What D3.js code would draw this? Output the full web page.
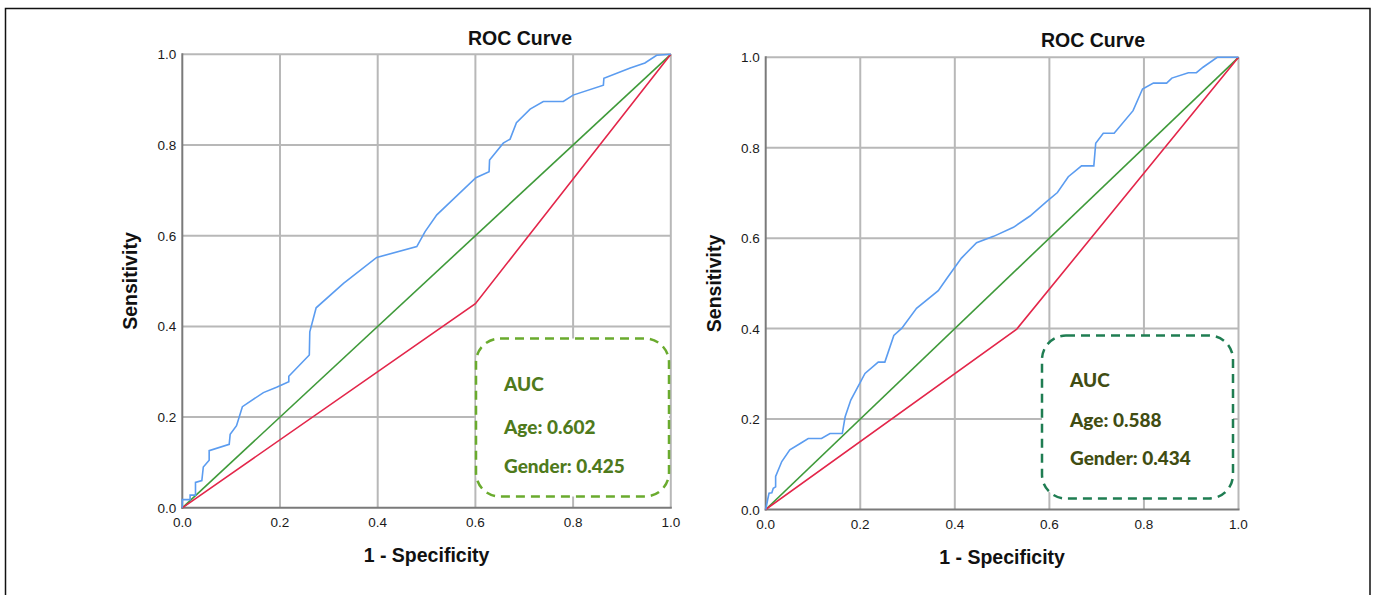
<!DOCTYPE html>
<html>
<head>
<meta charset="utf-8">
<script src="https://cdn.jsdelivr.net/npm/d3@7"></script>
<style>
    body { margin: 0; background: #fff; }
    .tick-label { font-family: "Liberation Sans", Arial, sans-serif; font-size: 13.5px; fill: #1a1a1a; }
    .axis-title { font-family: "Liberation Sans", Arial, sans-serif; font-size: 19.5px; font-weight: bold; fill: #111; }
    .auc-text { font-family: Lato, "Open Sans", sans-serif; font-size: 19px; font-weight: 900; }
</style>
</head>
<body>
<div id="chart"></div>
<script>
// Data
const ticks = [0, 0.2, 0.4, 0.6, 0.8, 1.0];
const tickLabels = ["0.0", "0.2", "0.4", "0.6", "0.8", "1.0"];
const titles = ["ROC Curve", "ROC Curve"];
const aucLabels = ["AUC", "Age:", "Gender:"];
const leftAuc = ["0.602", "0.425"];
const rightAuc = ["0.588", "0.434"];

// left panel, Age curve (1 - specificity, sensitivity)
const leftAge = [
    [0, 0], [0, 0.018], [0.016, 0.018], [0.016, 0.028], [0.027, 0.028], [0.027, 0.056],
    [0.04, 0.06], [0.043, 0.09], [0.055, 0.105], [0.055, 0.126], [0.096, 0.14], [0.098, 0.162],
    [0.111, 0.181], [0.123, 0.223], [0.166, 0.254], [0.193, 0.266], [0.218, 0.278], [0.218, 0.29],
    [0.26, 0.337], [0.261, 0.388], [0.274, 0.441], [0.33, 0.495], [0.398, 0.552], [0.48, 0.576],
    [0.497, 0.609], [0.521, 0.646], [0.601, 0.728], [0.628, 0.741], [0.629, 0.767], [0.657, 0.804],
    [0.671, 0.813], [0.684, 0.849], [0.712, 0.879], [0.739, 0.896], [0.78, 0.896], [0.8, 0.91],
    [0.862, 0.932], [0.863, 0.947], [0.917, 0.97], [0.947, 0.981], [0.971, 0.998], [1, 1]
];
const leftGender = [[0, 0], [0.6, 0.45], [1, 1]];

// right panel, Age curve
const rightAge = [
    [0, 0], [0.004, 0.021], [0.007, 0.036], [0.013, 0.037], [0.016, 0.047], [0.021, 0.05],
    [0.021, 0.073], [0.034, 0.106], [0.051, 0.132], [0.073, 0.146], [0.09, 0.157], [0.118, 0.157],
    [0.136, 0.168], [0.162, 0.168], [0.168, 0.205], [0.18, 0.242], [0.21, 0.301], [0.238, 0.326],
    [0.252, 0.326], [0.271, 0.385], [0.288, 0.401], [0.319, 0.445], [0.365, 0.484], [0.383, 0.511],
    [0.414, 0.556], [0.446, 0.59], [0.482, 0.604], [0.524, 0.624], [0.559, 0.649], [0.594, 0.681],
    [0.617, 0.701], [0.64, 0.736], [0.668, 0.76], [0.694, 0.76], [0.698, 0.81], [0.714, 0.832],
    [0.737, 0.832], [0.777, 0.882], [0.797, 0.93], [0.82, 0.943], [0.848, 0.943], [0.859, 0.954],
    [0.894, 0.966], [0.911, 0.966], [0.925, 0.978], [0.955, 1], [1, 1]
];
const rightGender = [[0, 0], [0.531, 0.399], [1, 1]];
const reference = [[0, 0], [1, 1]];

const width = 1375;
const height = 595;

const svg = d3.select("#chart")
    .append("svg")
    .attr("width", width)
    .attr("height", height);

// outer frame (bottom edge runs off the picture)
svg.append("rect")
    .attr("x", 5.5)
    .attr("y", 8.5)
    .attr("width", 1364.5)
    .attr("height", 600)
    .attr("fill", "none")
    .attr("stroke", "#111")
    .attr("stroke-width", 1.5);

const drawRoc = (p) => {
    const x = d3.scaleLinear().domain([0, 1]).range([p.x0, p.x1]);
    const y = d3.scaleLinear().domain([0, 1]).range([p.y0, p.y1]);
    const g = svg.append("g");

    // grid
    ticks.slice(1).forEach(t => {
        g.append("line")
            .attr("x1", x(t)).attr("x2", x(t))
            .attr("y1", y(0)).attr("y2", y(1))
            .attr("stroke", "#b8b8b8").attr("stroke-width", 2);
        g.append("line")
            .attr("x1", x(0)).attr("x2", x(1))
            .attr("y1", y(t)).attr("y2", y(t))
            .attr("stroke", "#b8b8b8").attr("stroke-width", 2);
    });

    // axes
    g.append("line")
        .attr("x1", x(0)).attr("x2", x(0))
        .attr("y1", y(0) + 1).attr("y2", y(1) - 1)
        .attr("stroke", "#7a7a7a").attr("stroke-width", 2);
    g.append("line")
        .attr("x1", x(0) - 1).attr("x2", x(1) + 1)
        .attr("y1", y(0)).attr("y2", y(0))
        .attr("stroke", "#7a7a7a").attr("stroke-width", 2);

    // tick labels
    ticks.forEach((t, i) => {
        g.append("text")
            .attr("class", "tick-label")
            .attr("x", x(0) - 6)
            .attr("y", y(t) + 5)
            .attr("text-anchor", "end")
            .text(tickLabels[i]);
        g.append("text")
            .attr("class", "tick-label")
            .attr("x", x(t))
            .attr("y", y(0) + 19)
            .attr("text-anchor", "middle")
            .text(tickLabels[i]);
    });

    // titles
    g.append("text")
        .attr("class", "axis-title")
        .attr("x", p.titleX)
        .attr("y", p.titleY)
        .attr("text-anchor", "middle")
        .text(p.title);
    g.append("text")
        .attr("class", "axis-title")
        .attr("x", (p.x0 + p.x1) / 2)
        .attr("y", y(0) + 54)
        .attr("text-anchor", "middle")
        .text("1 - Specificity");
    g.append("text")
        .attr("class", "axis-title")
        .attr("transform", `translate(${p.yLabelX},${(p.y0 + p.y1) / 2}) rotate(-90)`)
        .attr("text-anchor", "middle")
        .text("Sensitivity");

    // curves
    const line = d3.line().x(d => x(d[0])).y(d => y(d[1]));
    g.append("path").datum(reference)
        .attr("d", line).attr("fill", "none")
        .attr("stroke", "#3f9a3a").attr("stroke-width", 1.6);
    g.append("path").datum(p.gender)
        .attr("d", line).attr("fill", "none")
        .attr("stroke", "#e3264a").attr("stroke-width", 1.6);
    g.append("path").datum(p.age)
        .attr("d", line).attr("fill", "none")
        .attr("stroke", "#5b9cf0").attr("stroke-width", 1.6);

    // AUC box
    g.append("rect")
        .attr("x", p.box[0]).attr("y", p.box[1])
        .attr("width", p.box[2]).attr("height", p.box[3])
        .attr("rx", 24).attr("ry", 24)
        .attr("fill", "#fff")
        .attr("stroke", p.boxStroke)
        .attr("stroke-width", 2.5)
        .attr("stroke-dasharray", "9,6");

    const lines = [aucLabels[0], `${aucLabels[1]} ${p.auc[0]}`, `${aucLabels[2]} ${p.auc[1]}`];
    lines.forEach((txt, i) => {
        g.append("text")
            .attr("class", "auc-text")
            .attr("x", p.textX)
            .attr("y", p.textY[i])
            .attr("fill", p.textFill)
            .text(txt);
    });
};

drawRoc({
    x0: 182.3, x1: 670.8, y0: 507.8, y1: 54.3,
    title: titles[0], titleX: 520, titleY: 45,
    yLabelX: 137,
    age: leftAge, gender: leftGender, auc: leftAuc,
    box: [476, 338.5, 193, 158], boxStroke: "#6aab2e",
    textX: 504, textY: [391, 434, 473], textFill: "#4f7a1c"
});

drawRoc({
    x0: 765.7, x1: 1238.5, y0: 509.5, y1: 57.3,
    title: titles[1], titleX: 1093, titleY: 46.5,
    yLabelX: 721,
    age: rightAge, gender: rightGender, auc: rightAuc,
    box: [1042, 335.5, 191, 163], boxStroke: "#1f7d52",
    textX: 1070, textY: [387, 427, 465], textFill: "#414d12"
});
</script>
</body>
</html>
